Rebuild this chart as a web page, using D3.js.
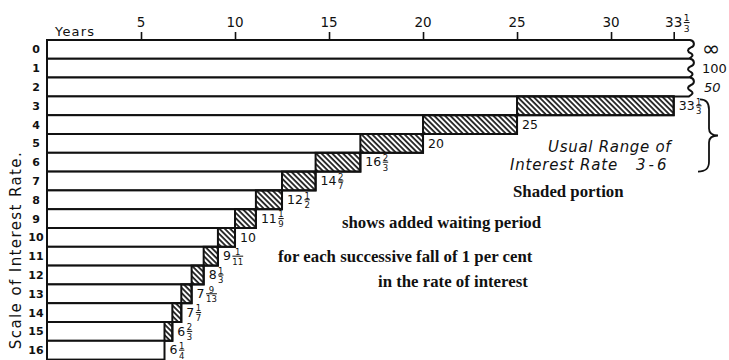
<!DOCTYPE html>
<html>
<head>
<meta charset="utf-8">
<script src="https://cdn.jsdelivr.net/npm/d3@7/dist/d3.min.js"></script>
<style>
  html, body { margin: 0; padding: 0; background: #fff; }
  svg { display: block; }
  .hand { font-family: "DejaVu Sans", sans-serif; fill: #111; }
  .print { font-family: "Liberation Serif", serif; font-weight: bold; fill: #111; }
</style>
</head>
<body>
<svg id="chart" width="729" height="360"></svg>
<script>
// Interest rate (per cent) for each row of the chart
const rates = [0, 1, 2, 3, 4, 5, 6, 7, 8, 9, 10, 11, 12, 13, 14, 15, 16];
// Years of purchase (waiting period) at each rate
const years = [Infinity, 100, 50, 33.333, 25, 20, 16.667, 14.286, 12.5, 11.111, 10, 9.091, 8.333, 7.692, 7.143, 6.667, 6.25];
// How each value is written: whole part and a fraction
const yearWhole = ["∞", "100", "50", "33", "25", "20", "16", "14", "12", "11", "10", "9", "8", "7", "7", "6", "6"];
const yearFrac = ["", "", "", "1/3", "", "", "2/3", "2/7", "1/2", "1/9", "", "1/11", "1/3", "9/13", "1/7", "2/3", "1/4"];
// Year scale along the top
const tickValues = [5, 10, 15, 20, 25, 30, 33.333];
const tickWhole = ["5", "10", "15", "20", "25", "30", "33"];
const tickFrac = ["", "", "", "", "", "", "1/3"];
// Usual range of the interest rate
const usualRange = [3, 6];
const rangeNote = ["Usual Range of", "Interest Rate", "3-6"];
const shadeNote = ["Shaded portion", "shows added waiting period", "for each successive fall of 1 per cent", "in the rate of interest"];

const svg = d3.select("#chart");
const maxYears = 33.333;      // end of the drawn year scale
const breakAt = 34.2;         // where the very long bars are broken off

const x = d3.scaleLinear().domain([0, maxYears]).range([47, 673.7]);
const y = d3.scaleBand().domain(rates).range([40, 40 + 18.8 * rates.length]).padding(0);
const h = y.bandwidth();

// diagonal hatching for the added waiting period
const defs = svg.append("defs");
defs.append("pattern")
  .attr("id", "hatch")
  .attr("patternUnits", "userSpaceOnUse")
  .attr("width", 3.8).attr("height", 3.8)
  .attr("patternTransform", "rotate(-45)")
  .append("line")
  .attr("x1", 1).attr("y1", -1).attr("x2", 1).attr("y2", 5)
  .attr("stroke", "#111").attr("stroke-width", 1.7);

// number written with an optional stacked fraction
function numberLabel(parent, px, py, whole, frac, size, anchor) {
  const g = parent.append("g").attr("class", "hand");
  const t = g.append("text").attr("font-size", size).text(whole);
  const w = t.node().getComputedTextLength();
  let x0 = px;
  if (anchor === "middle") x0 = px - w / 2;
  t.attr("x", x0).attr("y", py);
  if (!frac) return g;
  const [n, d] = frac.split("/");
  const fs = size * 0.68;
  const nt = g.append("text").attr("font-size", fs).attr("text-anchor", "middle").text(n);
  const dt = g.append("text").attr("font-size", fs).attr("text-anchor", "middle").text(d);
  const fw = Math.max(nt.node().getComputedTextLength(), dt.node().getComputedTextLength());
  const fx = x0 + w + 1.5 + fw / 2;
  nt.attr("x", fx).attr("y", py - size * 0.42);
  dt.attr("x", fx).attr("y", py + size * 0.34);
  g.append("line")
    .attr("x1", fx - fw / 2).attr("x2", fx + fw / 2)
    .attr("y1", py - size * 0.33).attr("y2", py - size * 0.33)
    .attr("stroke", "#111").attr("stroke-width", 1);
  return g;
}

// bars
const rows = rates.map((r, i) => ({ r, i, v: years[i], next: i + 1 < years.length ? years[i + 1] : null }));
const bars = svg.append("g");

rows.forEach(d => {
  const top = y(d.r), bot = top + h;
  if (d.v > maxYears + 0.01) {
    // broken-off bar with a wavy end
    const xb = x(breakAt), m = (top + bot) / 2;
    const path = `M${x(0)},${top}H${xb}` +
      `C${xb + 5},${top + 1} ${xb + 5},${top + 6} ${xb + 1},${m - 2}` +
      `C${xb - 3},${m} ${xb - 3},${m + 2} ${xb + 1},${m + 4}` +
      `C${xb + 4},${m + 6} ${xb + 2},${bot - 2} ${xb - 1},${bot}` +
      `H${x(0)}Z`;
    bars.append("path").attr("d", path)
      .attr("fill", "#fff").attr("stroke", "#111").attr("stroke-width", 2);
  } else {
    bars.append("rect")
      .attr("x", x(0)).attr("y", top)
      .attr("width", x(d.v) - x(0)).attr("height", h)
      .attr("fill", "#fff").attr("stroke", "#111").attr("stroke-width", 2);
    if (d.next !== null) {
      bars.append("rect")
        .attr("x", x(d.next)).attr("y", top)
        .attr("width", x(d.v) - x(d.next)).attr("height", h)
        .attr("fill", "url(#hatch)").attr("stroke", "#111").attr("stroke-width", 2);
    }
  }
});

// top year scale
const axis = d3.axisTop(x).tickValues(tickValues).tickSize(8).tickSizeOuter(0).tickFormat(() => "");
const ax = svg.append("g").attr("transform", `translate(0,${y(rates[0])})`).call(axis);
ax.select(".domain").remove();
ax.selectAll(".tick line").attr("stroke", "#111").attr("stroke-width", 1.6);
tickValues.forEach((t, i) => numberLabel(svg, x(t), 27, tickWhole[i], tickFrac[i], 13.5, "middle"));

svg.append("text").attr("class", "hand")
  .attr("x", 55).attr("y", 36).attr("font-size", 13).attr("letter-spacing", 1.2)
  .text("Years");

// rate labels down the left
svg.append("g").selectAll("text").data(rates).join("text")
  .attr("class", "hand")
  .attr("x", 36).attr("y", r => y(r) + h / 2 + 4)
  .attr("text-anchor", "middle").attr("font-size", 11).attr("font-weight", "bold")
  .text(r => r);

svg.append("text").attr("class", "hand")
  .attr("transform", `translate(21,${250}) rotate(-90)`)
  .attr("text-anchor", "middle").attr("font-size", 15).attr("letter-spacing", 1.4)
  .text("Scale of Interest Rate.");

// value labels
rows.forEach(d => {
  if (d.v > maxYears + 0.01) {
    const lx = x(breakAt) + 12;
    const g = numberLabel(svg, lx, y(d.r) + h / 2 + 5, yearWhole[d.i], "", d.i === 0 ? 22 : 13, "start");
    if (d.i === 2) g.select("text").attr("font-style", "italic").attr("x", lx + 2);
    if (d.i === 0) g.select("text").attr("y", y(d.r) + h / 2 + 7);
  } else {
    numberLabel(svg, x(d.v) + 5, y(d.r) + 13.5, yearWhole[d.i], yearFrac[d.i], 12.5, "start");
  }
});

// brace marking the usual range
const bx = 700, yt = y(usualRange[0]) + 3, yb = y(usualRange[1] + 1), ym = (yt + yb) / 2;
svg.append("path")
  .attr("d", `M${bx},${yt}C${bx + 6},${yt} ${bx + 9},${yt + 3} ${bx + 9},${yt + 10}V${ym - 7}` +
    `C${bx + 9},${ym - 2} ${bx + 12},${ym} ${bx + 18},${ym}` +
    `C${bx + 12},${ym} ${bx + 9},${ym + 2} ${bx + 9},${ym + 7}V${yb - 10}` +
    `C${bx + 9},${yb - 3} ${bx + 6},${yb} ${bx - 2},${yb}`)
  .attr("fill", "none").attr("stroke", "#111").attr("stroke-width", 1.8);

svg.append("text").attr("class", "hand").attr("font-style", "italic")
  .attr("x", 548).attr("y", 152).attr("font-size", 15).attr("letter-spacing", 0.7)
  .text(rangeNote[0]);
svg.append("text").attr("class", "hand").attr("font-style", "italic")
  .attr("x", 510).attr("y", 170).attr("font-size", 15).attr("letter-spacing", 0.8)
  .text(rangeNote[1]);
svg.append("text").attr("class", "hand").attr("font-style", "italic")
  .attr("x", 636).attr("y", 170).attr("font-size", 15).attr("letter-spacing", 3)
  .text(rangeNote[2]);

// explanatory note
const notePos = [[513, 197], [342, 228], [278, 262], [378, 287]];
shadeNote.forEach((s, i) => {
  svg.append("text").attr("class", "print")
    .attr("x", notePos[i][0]).attr("y", notePos[i][1])
    .attr("font-size", 16.8)
    .text(s);
});
</script>
</body>
</html>
